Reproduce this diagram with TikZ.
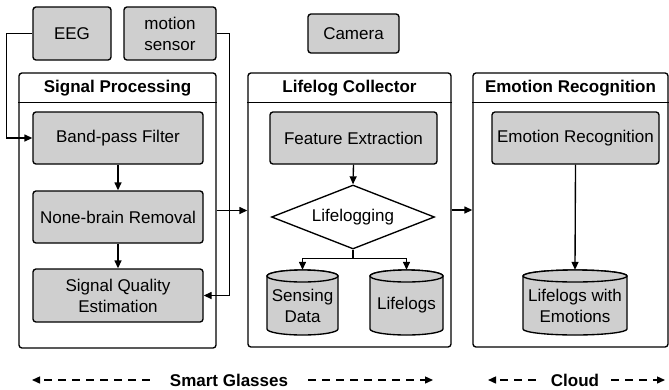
\documentclass[tikz,border=0pt]{standalone}
\usepackage{fontspec}
\setmainfont{Liberation Sans}
\usetikzlibrary{arrows.meta,shapes.geometric}
\definecolor{boxgray}{RGB}{207,207,207}
\newcommand{\mycyl}[6]{%
  \filldraw[cylstyle] (#2-#3,#4+6) -- (#2-#3,#5-6)
    arc[start angle=180,end angle=0,x radius=#3,y radius=6]
    -- (#2+#3,#4+6)
    arc[start angle=0,end angle=-180,x radius=#3,y radius=6] -- cycle;
  \draw[cylstyle] (#2,#4+6) ellipse[x radius=#3,y radius=6];
  \node[cyltext, minimum width=2*#3] (#1) at (#2,{(#4+#5)/2+3}) {#6};%
}
\begin{document}
\begin{tikzpicture}[x=1pt,y=-1pt,
  font=\fontsize{17}{21}\selectfont,
  proc/.style={draw, fill=boxgray, rounded corners=3pt, line width=1.35pt, align=center, inner sep=0pt},
  cont/.style={draw, rounded corners=3pt, line width=1.35pt, inner sep=0pt},
  hdr/.style={font=\fontsize{17}{21}\selectfont\bfseries, inner sep=0pt},
  line/.style={line width=1.35pt},
  arr/.style={-{Triangle[length=8pt,width=7pt]}, line width=1.35pt},
  darr/.style={-{Triangle[length=8pt,width=7pt]}, line width=1.35pt, dash pattern=on 8pt off 6pt},
  cylstyle/.style={fill=boxgray, line width=1.35pt},
  cyltext/.style={align=center, inner sep=0pt, minimum height=71pt},
  dia/.style={draw, shape=diamond, line width=1.35pt, inner sep=0pt, minimum width=163pt, minimum height=64pt, aspect=2.55}
]
\useasboundingbox (0,0) rectangle (669,389);

% containers
\node[cont, minimum width=197pt, minimum height=275pt] (sp) at (117.5,210.5) {};
\node[cont, minimum width=203pt, minimum height=274pt] (lc) at (349.5,210) {};
\node[cont, minimum width=195pt, minimum height=274pt] (emc) at (570.5,210) {};
\draw[line] ([yshift=-30pt]sp.north west) -- ([yshift=-30pt]sp.north east);
\draw[line] ([yshift=-30pt]lc.north west) -- ([yshift=-30pt]lc.north east);
\draw[line] ([yshift=-30pt]emc.north west) -- ([yshift=-30pt]emc.north east);
\node[hdr] (sph) at (117.5,88) {Signal Processing};
\node[hdr] (lch) at (349.5,88) {Lifelog Collector};
\node[hdr] (emh) at (570.5,88) {Emotion Recognition};

% sensors
\node[proc, minimum width=78pt, minimum height=53pt] (eeg) at (72,33.5) {EEG};
\node[proc, minimum width=92pt, minimum height=53pt] (ms) at (170,33.5) {motion\\sensor};
\node[proc, minimum width=91pt, minimum height=39pt] (cam) at (353.5,33.5) {Camera};

% signal processing
\node[proc, minimum width=170pt, minimum height=52pt] (bp) at (118,138) {Band-pass Filter};
\node[proc, minimum width=170pt, minimum height=52pt] (nb) at (118,217) {None-brain Removal};
\node[proc, minimum width=170pt, minimum height=53pt] (sqe) at (118,295.5) {Signal Quality\\Estimation};

% lifelog collector
\node[proc, minimum width=167pt, minimum height=52pt] (fe) at (353.5,138) {Feature Extraction};
\node[dia] (lg) at (353,217) {Lifelogging};
\mycyl{sd}{302.5}{35.5}{270}{335}{Sensing\\Data}
\mycyl{ll}{406.5}{36.5}{270}{335}{Lifelogs}

% emotion recognition
\node[proc, minimum width=167pt, minimum height=52pt] (er) at (575.5,138) {Emotion Recognition};
\mycyl{lwe}{575}{52}{270}{335}{Lifelogs with\\Emotions}

% connectors
\draw[arr] (eeg.west) -- ++(-26,0) |- (bp.west);
\draw[arr] (ms.east) -- ++(13,0) |- (sqe.east);
\draw[arr] (bp.south) -- (nb.north);
\draw[arr] (nb.south) -- (sqe.north);
\draw[arr] (sp.east) -- (sp.east -| lc.west);
\draw[arr] (lc.east) -- (lc.east -| emc.west);
\draw[arr] (fe.south) -- (lg.north);
\draw[arr] (lg.south) -- ++(0,9) -| (sd.north);
\draw[arr] (lg.south) ++(0,9) -| (ll.north);
\draw[arr] (er.south) -- (lwe.north);

% bottom labels
\node[hdr] (sg) at (229,380) {Smart Glasses};
\node[hdr] (cl) at (575,380) {Cloud};
\coordinate (sgL) at (32,380);
\coordinate (sgR) at (433,380);
\coordinate (clL) at (488,380);
\coordinate (clR) at (665,380);
\draw[darr] ([xshift=-20pt]sg.west) -- (sgL);
\draw[darr] ([xshift=20pt]sg.east) -- (sgR);
\draw[darr] ([xshift=-15pt]cl.west) -- (clL);
\draw[darr] ([xshift=12pt]cl.east) -- (clR);
\end{tikzpicture}
\end{document}
